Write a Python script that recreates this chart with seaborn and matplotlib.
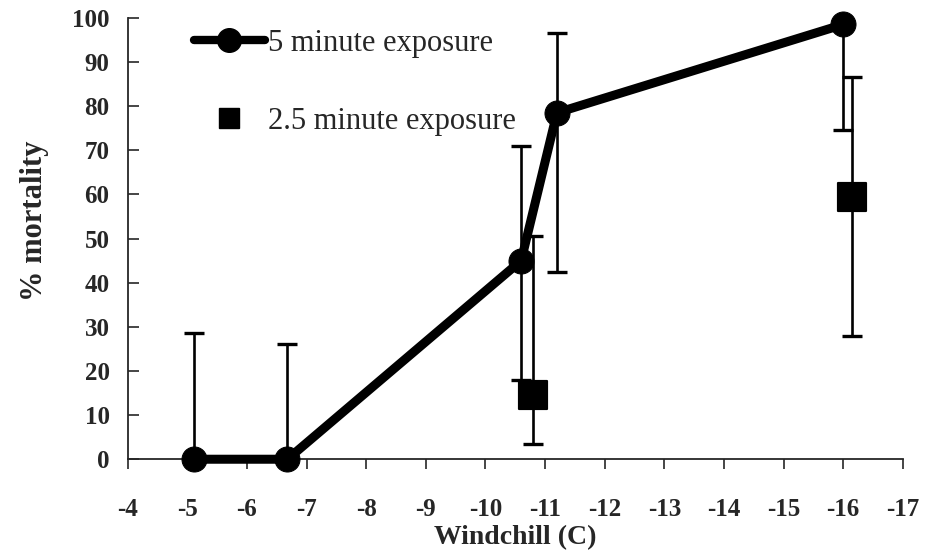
import matplotlib
matplotlib.use("Agg")
import matplotlib.pyplot as plt
import seaborn as sns
import numpy as np
import pandas as pd
from matplotlib.lines import Line2D

# 5 minute exposure
x_5min = [-5.12, -6.68, -10.6, -11.2, -16.0]
y_5min = [0, 0, 45, 78.5, 98.5]
lo_5min = [0, 0, 18, 42.5, 74.5]    # lower end of error bar
hi_5min = [28.5, 26, 71, 96.5, 98.5]  # upper end of error bar

# 2.5 minute exposure
x_25min = [-10.8, -16.15]
y_25min = [14.5, 59.5]
lo_25min = [3.5, 28]
hi_25min = [50.5, 86.5]

x_ticks = list(range(-4, -18, -1))
y_ticks = list(range(0, 101, 10))

sns.set_style("ticks")
plt.rcParams['font.family'] = ['Liberation Serif', 'DejaVu Serif']

fig, ax = plt.subplots(figsize=(9.25, 5.58), dpi=100)
fig.subplots_adjust(left=0.138, right=0.976, bottom=0.177, top=0.968)

df5 = pd.DataFrame({'x': x_5min, 'y': y_5min})
df25 = pd.DataFrame({'x': x_25min, 'y': y_25min})

# error bars first, markers on top
for xs, ys, lo, hi in [(x_5min, y_5min, lo_5min, hi_5min),
                       (x_25min, y_25min, lo_25min, hi_25min)]:
    ys = np.array(ys)
    ax.errorbar(xs, ys, yerr=[ys - np.array(lo), np.array(hi) - ys],
                fmt='none', ecolor='black', elinewidth=1.9, capsize=7,
                capthick=2.4, zorder=2, clip_on=False)

sns.lineplot(data=df5, x='x', y='y', color='black', linewidth=6.5, marker='o',
             markersize=18, markeredgecolor='black', sort=False, ax=ax,
             zorder=3, clip_on=False)
sns.scatterplot(data=df25, x='x', y='y', color='black', marker='s', s=380,
                edgecolor='black', ax=ax, zorder=3, clip_on=False)

ax.set_xlim(-4, -17)
ax.set_ylim(0, 100)
ax.set_xticks(x_ticks)
ax.set_yticks(y_ticks)
ax.set_xticklabels([str(t) for t in x_ticks], fontsize=18, fontweight='bold')
ax.set_yticklabels([str(t) for t in y_ticks], fontsize=18, fontweight='bold')
ax.tick_params(axis='y', direction='in', length=8, width=1.2, pad=13)
ax.tick_params(axis='x', direction='out', length=7, width=1.2, pad=21)
ax.set_xlabel('Windchill (C)', fontsize=20, fontweight='bold', labelpad=3)
ax.set_ylabel('% mortality', fontsize=22, fontweight='bold')
ax.yaxis.set_label_coords(-0.101, 0.54)
sns.despine(ax=ax)
for s in ['left', 'bottom']:
    ax.spines[s].set_linewidth(1.3)

handles = [
    Line2D([], [], color='black', linewidth=6, marker='o', markersize=17),
    Line2D([], [], color='black', linestyle='none', marker='s', markersize=14),
]
ax.legend(handles, ['5 minute exposure', '2.5 minute exposure'],
          loc='upper left', bbox_to_anchor=(0.086, 0.975), frameon=False,
          borderpad=0, borderaxespad=0,
          fontsize=22, handlelength=2.3, handletextpad=0.1, labelspacing=1.6)

fig.savefig('out.png', dpi=100)
